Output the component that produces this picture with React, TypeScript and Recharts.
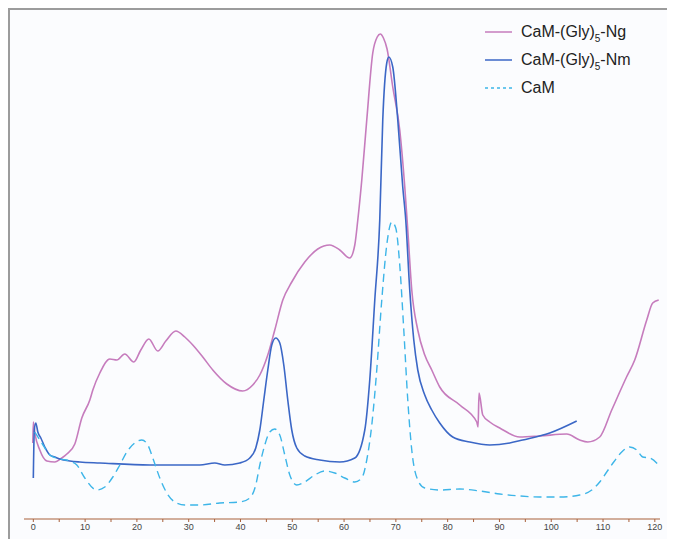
import { LineChart, Line, XAxis, YAxis, Legend } from 'recharts';

// elution volume (x) and absorbance (y, arbitrary units)
const ngX = [-0.1, 0, 0.29, 1.25, 2.61, 4.15, 5.5, 6.47, 8.01, 9.36, 10.91, 11.49, 12.84, 14.77, 16.12, 17.66, 19.4, 20.75, 22.3, 24.03, 25.58, 27.51, 29.25, 30.79, 32.72, 34.65, 37.36, 40.44, 42.37, 43.73, 45.27, 46.62, 48.17, 49.9, 52.41, 54.92, 57.24, 59.17, 61.1, 62.07, 62.65, 63.42, 64.38, 65.54, 66.4, 67.0, 67.6, 68.3, 69.4, 70.75, 71.72, 72.3, 73.07, 74.23, 75.58, 76.93, 78.47, 82.34, 85.62, 85.87, 86.06, 86.78, 88.13, 90.06, 93.92, 97.78, 102.99, 105.5, 107.05, 109.36, 111.68, 114.54, 116.12, 118.44, 119.59, 120.75];
const ngY = [76, 97, 86, 69, 58, 57, 61, 65, 75, 101, 119, 129, 146, 160, 159, 165, 157, 169, 180, 168, 178, 188, 182, 174, 162, 149, 135, 128, 134, 144, 164, 189, 219, 237, 257, 270, 274, 269, 261, 274, 299, 339, 399, 466, 482, 485, 481, 470, 432, 389, 332, 289, 229, 189, 164, 149, 132, 114, 97, 92, 126, 104, 97, 91, 82, 83, 85, 79, 77, 82, 109, 142, 159, 199, 216, 219];

const nmX = [0, 0.19, 0.48, 0.87, 1.45, 2.22, 3.19, 4.15, 5.12, 7.05, 8.98, 12.84, 22.49, 32.14, 35.04, 36.97, 39.86, 41.8, 42.95, 43.73, 44.5, 45.27, 46.04, 46.81, 47.59, 48.36, 49.13, 49.9, 50.87, 52.41, 55.31, 59.17, 62.07, 64.0, 64.96, 65.93, 66.89, 67.47, 68.24, 68.63, 69.4, 70.37, 71.33, 71.91, 72.68, 73.46, 74.23, 75.58, 76.93, 78.47, 80.98, 84.27, 88.13, 91.99, 94.5, 99.71, 104.92];
const nmY = [41, 89, 96, 87, 81, 72, 64, 62, 60, 58, 57, 56, 54, 54, 56, 54, 56, 61, 71, 89, 119, 149, 174, 181, 176, 154, 119, 89, 71, 63, 59, 57, 61, 89, 139, 219, 299, 399, 456, 462, 452, 399, 332, 299, 229, 179, 149, 124, 109, 96, 82, 77, 74, 76, 79, 86, 98];

const camX = [0.29, 1.64, 3.19, 5.12, 7.05, 8.4, 9.94, 12.26, 13.8, 15.35, 16.7, 18.05, 19.59, 20.95, 22.1, 23.07, 24.42, 25.77, 27.32, 29.25, 32.14, 36.0, 39.86, 41.8, 42.95, 43.73, 44.69, 45.66, 46.62, 47.59, 48.55, 49.52, 50.87, 52.41, 54.34, 56.27, 58.2, 60.13, 62.07, 63.42, 64.38, 65.35, 66.31, 67.28, 68.24, 69.21, 69.98, 70.75, 71.53, 72.3, 73.07, 74.23, 75.58, 78.47, 82.34, 86.2, 90.06, 93.92, 97.78, 101.64, 105.5, 107.82, 109.36, 110.71, 112.07, 113.61, 115.15, 116.51, 117.66, 119.02, 120.75];
const camY = [87, 76, 64, 60, 58, 54, 41, 29, 32, 42, 54, 67, 76, 79, 74, 61, 41, 26, 17, 14, 14, 16, 17, 21, 34, 54, 74, 87, 90, 84, 64, 44, 34, 37, 44, 48, 46, 41, 37, 41, 59, 94, 149, 219, 274, 297, 291, 254, 189, 119, 69, 39, 31, 29, 30, 28, 25, 23, 22, 22, 24, 29, 37, 47, 57, 67, 72, 69, 62, 61, 54];

const xTicks = [0, 5, 10, 15, 20, 25, 30, 35, 40, 45, 50, 55, 60, 65, 70, 75, 80, 85, 90, 95, 100, 105, 110, 115, 120];

const toPoints = (xs: number[], ys: number[]) => xs.map((x, i) => ({ x, y: ys[i] }));

const ngData = toPoints(ngX, ngY);
const nmData = toPoints(nmX, nmY);
const camData = toPoints(camX, camY);

const PINK = '#c67cbd';
const BLUE = '#3b67c6';
const CYAN = '#3db5e8';

const legendItems = [
  { color: PINK, dash: undefined, pre: 'CaM-(Gly)', sub: '5', post: '-Ng' },
  { color: BLUE, dash: undefined, pre: 'CaM-(Gly)', sub: '5', post: '-Nm' },
  { color: CYAN, dash: '3 3', pre: 'CaM', sub: '', post: '' },
];

const ChartLegend = () => (
  <div style={{ fontFamily: '"Liberation Sans", Arial, sans-serif', fontSize: 16, color: '#222' }}>
    {legendItems.map((it) => (
      <div key={it.pre + it.post} style={{ display: 'flex', alignItems: 'center', height: 28 }}>
        <svg width={33} height={4} style={{ marginRight: 3 }}>
          <line x1={0} y1={2} x2={27} y2={2} stroke={it.color} strokeWidth={1.5} strokeDasharray={it.dash} />
        </svg>
        <span>
          {it.pre}
          {it.sub && <span style={{ fontSize: 10, position: 'relative', top: 5 }}>{it.sub}</span>}
          {it.post}
        </span>
      </div>
    ))}
  </div>
);

export default function App() {
  return (
    <div
      style={{
        width: 665,
        height: 529,
        borderLeft: '2px solid #9c9c9c',
        borderTop: '2px solid #9c9c9c',
        background: '#fbfcfe',
      }}
    >
      <LineChart width={665} height={529} margin={{ top: 9, right: 15, bottom: 0, left: 14 }}>
        <XAxis
          dataKey='x'
          type='number'
          domain={[-1.8, 121]}
          allowDataOverflow
          ticks={xTicks}
          tickFormatter={(v: number) => (v % 10 === 0 ? String(v) : '')}
          height={20}
          stroke='#a8603a'
          tickSize={3}
          tick={{ fontSize: 9, fill: '#444', fontFamily: 'Arial, "Liberation Sans", sans-serif' }}
        />
        <YAxis hide type='number' domain={[0, 500]} allowDataOverflow />
        <Legend
          layout='vertical'
          align='center'
          verticalAlign='middle'
          wrapperStyle={{ top: 8, left: 475, width: 190 }}
          content={() => <ChartLegend />}
        />
        <Line data={ngData} dataKey='y' type='monotone' stroke={PINK} strokeWidth={1.6} dot={false} isAnimationActive={false} />
        <Line data={nmData} dataKey='y' type='monotone' stroke={BLUE} strokeWidth={1.6} dot={false} isAnimationActive={false} />
        <Line data={camData} dataKey='y' type='monotone' stroke={CYAN} strokeWidth={1.4} strokeDasharray='8 5' dot={false} isAnimationActive={false} />
      </LineChart>
    </div>
  );
}
